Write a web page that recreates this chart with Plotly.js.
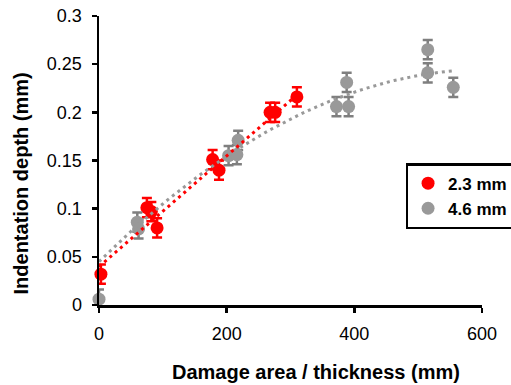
<!DOCTYPE html>
<html>
<head>
<meta charset="utf-8">
<script src="https://cdn.plot.ly/plotly-3.0.1.min.js"></script>
<style>html,body{margin:0;padding:0;background:#fff;}#chart{width:511px;height:385px;}</style>
</head>
<body>
<div id="chart"></div>
<script>
// Data
const seriesNames = ["2.3 mm", "4.6 mm"];
const redX = [3, 75, 82, 91, 178, 188, 268, 276, 310];
const redY = [0.032, 0.101, 0.097, 0.080, 0.151, 0.140, 0.200, 0.200, 0.216];
const redErr = [0.01, 0.01, 0.01, 0.01, 0.01, 0.01, 0.01, 0.01, 0.01];
const grayX = [0, 60, 62, 203, 216, 218, 372, 388, 391, 515, 515, 555];
const grayY = [0.006, 0.086, 0.079, 0.155, 0.156, 0.171, 0.206, 0.231, 0.206, 0.265, 0.241, 0.226];
const grayErr = [0.01, 0.01, 0.01, 0.01, 0.01, 0.01, 0.01, 0.01, 0.01, 0.01, 0.01, 0.01];
// Trendline coefficients (c0 + c1*x + c2*x^2) and x-extent
const redTrendCoef = [0.0398, 0.000575];
const redTrendRange = [0, 304];
const grayTrendCoef = [0.045, 0.000654, -5.35e-7];
const grayTrendRange = [0, 555];
const xTicks = [0, 200, 400, 600];
const xTitle = "Damage area / thickness (mm)";
const yTitle = "Indentation depth (mm)";

function trend(coef, range) {
  const fx = [], fy = [];
  const steps = 60;
  for (let s = 0; s <= steps; s++) {
    const x = range[0] + (range[1] - range[0]) * s / steps;
    fx.push(x);
    fy.push(coef.reduce((acc, ci, i) => acc + ci * Math.pow(x, i), 0));
  }
  return {x: fx, y: fy};
}
const redFit = trend(redTrendCoef, redTrendRange);
const grayFit = trend(grayTrendCoef, grayTrendRange);

const FONT = "Liberation Sans, Arial, sans-serif";
const RED = "#ff0000", GRAY = "#999999", GRAYBAR = "#7f7f7f";

const traces = [
  {x: redX, y: redY, type: "scatter", mode: "markers", name: seriesNames[0], cliponaxis: false,
   marker: {color: RED, size: 13},
   error_y: {type: "data", array: redErr, visible: true, color: RED, thickness: 2.5, width: 5}},
  {x: grayX, y: grayY, type: "scatter", mode: "markers", name: seriesNames[1], cliponaxis: false,
   marker: {color: GRAY, size: 13},
   error_y: {type: "data", array: grayErr, visible: true, color: GRAYBAR, thickness: 2.5, width: 5}},
  {x: grayFit.x, y: grayFit.y, type: "scatter", mode: "lines", showlegend: false, hoverinfo: "skip",
   line: {color: GRAY, width: 3, dash: "3px,4px"}},
  {x: redFit.x, y: redFit.y, type: "scatter", mode: "lines", showlegend: false, hoverinfo: "skip",
   line: {color: RED, width: 3, dash: "3px,4px"}}
];

const axisCommon = {
  showline: true, linecolor: "#000", linewidth: 2.5, mirror: false,
  ticks: "outside", ticklen: 5, tickwidth: 2.5, tickcolor: "#000",
  showgrid: false, zeroline: false, automargin: false,
  tickfont: {family: FONT, size: 18, color: "#000"}
};

const layout = {
  width: 511, height: 385,
  margin: {l: 99, r: 29, t: 16, b: 80, autoexpand: false},
  paper_bgcolor: "#fff", plot_bgcolor: "#fff",
  font: {family: FONT, color: "#000"},
  xaxis: Object.assign({}, axisCommon, {range: [0, 600], tickvals: xTicks, ticktext: xTicks.map(String), ticklabelstandoff: 6}),
  yaxis: Object.assign({}, axisCommon, {range: [0, 0.3], dtick: 0.05, tick0: 0, ticklabelstandoff: 6}),
  showlegend: true,
  legend: {x: 1.085, y: 0.491, xanchor: "right", yanchor: "top",
    bgcolor: "#fff", bordercolor: "#000", borderwidth: 2.5,
    font: {family: FONT, size: 17, color: "#000", weight: "bold"},
    itemwidth: 30, tracegroupgap: 0},
  annotations: [
    {text: "<b>" + xTitle + "</b>", xref: "paper", yref: "paper", x: 0.567, y: -0.232,
     xanchor: "center", yanchor: "middle", showarrow: false,
     font: {family: FONT, size: 20, color: "#000"}},
    {text: "<b>" + yTitle + "</b>", xref: "paper", yref: "paper", x: -0.204, y: 0.42,
     xanchor: "center", yanchor: "middle", textangle: -90, showarrow: false,
     font: {family: FONT, size: 20, color: "#000"}}
  ]
};

Plotly.newPlot("chart", traces, layout, {displayModeBar: false, staticPlot: true});
</script>
</body>
</html>
